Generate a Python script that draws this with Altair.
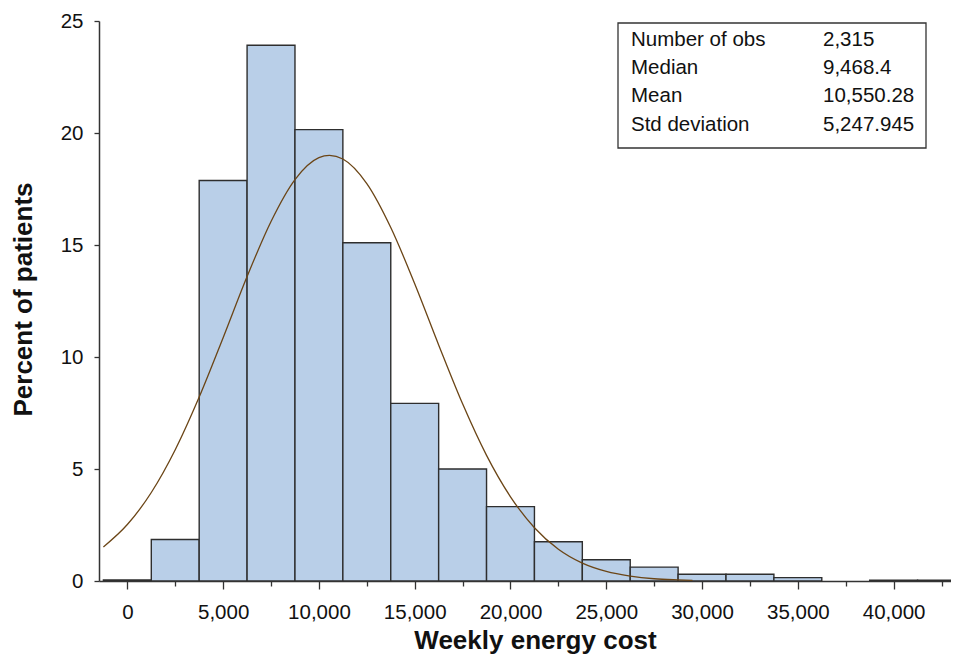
import altair as alt
import pandas as pd

# Histogram bins (bin centre, percent of patients), bin width 2,500
bin_centers = [0, 2500, 5000, 7500, 10000, 12500, 15000, 17500, 20000,
               22500, 25000, 27500, 30000, 32500, 35000, 40000, 42500]
percent = [0.05, 1.85, 17.88, 23.92, 20.15, 15.1, 7.93, 5.0, 3.32,
           1.75, 0.95, 0.62, 0.3, 0.3, 0.15, 0.04, 0.04]
bin_width = 2500

# Fitted normal curve
curve_x = [-1250, 0, 1250, 2500, 3750, 5000, 6250, 7500, 8750, 10000, 10550,
           11250, 12500, 13750, 15000, 16250, 17500, 18750, 20000, 21250,
           22500, 23750, 25000, 26250, 27500, 28750, 29500]
curve_y = [1.52, 2.52, 3.95, 5.86, 8.21, 10.86, 13.59, 16.05, 17.92, 18.9, 19.0,
           18.84, 17.74, 15.78, 13.27, 10.54, 7.91, 5.61, 3.76, 2.38,
           1.42, 0.8, 0.43, 0.22, 0.1, 0.05, 0.03]

# Statistics box
stat_labels = ["Number of obs", "Median", "Mean", "Std deviation"]
stat_values = ["2,315", "9,468.4", "10,550.28", "5,247.945"]

major_ticks = [0, 5000, 10000, 15000, 20000, 25000, 30000, 35000, 40000]
minor_ticks = [2500, 7500, 12500, 17500, 22500, 27500, 32500, 37500, 42500]
y_ticks = [0, 5, 10, 15, 20, 25]

FONT = "Liberation Sans"

bars_df = pd.DataFrame({
    "start": [c - bin_width / 2 for c in bin_centers],
    "end": [c + bin_width / 2 for c in bin_centers],
    "pct": percent,
    "zero": [0] * len(percent),
})
curve_df = pd.DataFrame({"x": curve_x, "y": curve_y})
stats_df = pd.DataFrame({
    "label": stat_labels,
    "value": stat_values,
    "row": list(range(len(stat_labels))),
})

xscale = alt.Scale(domain=[-1480, 43360], nice=False, zero=False)
yscale = alt.Scale(domain=[0, 25], nice=False)

x_axis_main = alt.Axis(
    values=major_ticks, format=",d", orient="bottom",
    tickSize=8, tickColor="#333333", tickWidth=1.3,
    domainColor="#333333", domainWidth=1.5,
    labelFont=FONT, labelFontSize=20.5, labelColor="#111111", labelPadding=13,
    labelFlush=False, labelOverlap=False,
    grid=False,
    title="Weekly energy cost", titleFont=FONT, titleFontSize=26,
    titleFontWeight="bold", titleColor="#111111",
    titleX=436, titleY=67, titleBaseline="alphabetic", titleAlign="center",
)
x_axis_minor = alt.Axis(
    values=minor_ticks, orient="bottom", labels=False, domain=False,
    tickSize=5, tickColor="#333333", tickWidth=1.3, grid=False, title=None,
)
y_axis = alt.Axis(
    values=y_ticks, orient="left",
    tickSize=5, tickColor="#333333", tickWidth=1.3,
    domainColor="#333333", domainWidth=1.5,
    labelFont=FONT, labelFontSize=20.5, labelColor="#111111", labelPadding=11,
    labelFlush=False,
    grid=False,
    title="Percent of patients", titleFont=FONT, titleFontSize=26,
    titleFontWeight="bold", titleColor="#111111",
    titleAngle=270, titleX=-68, titleY=278, titleBaseline="alphabetic",
    titleAlign="center",
)

bars = alt.Chart(bars_df).mark_rect(
    fill="#b9cfe8", stroke="#2e2e2e", strokeWidth=1.4, clip=True
).encode(
    x=alt.X("start:Q", scale=xscale, axis=x_axis_main),
    x2="end:Q",
    y=alt.Y("zero:Q", scale=yscale, axis=y_axis),
    y2="pct:Q",
)

curve = alt.Chart(curve_df).mark_line(
    color="#6b4516", strokeWidth=1.3, interpolate="monotone", clip=True
).encode(
    x=alt.X("x:Q", scale=xscale, axis=x_axis_minor),
    y=alt.Y("y:Q", scale=yscale),
)

box = alt.Chart(pd.DataFrame({"k": [0]})).mark_rect(
    fill="white", stroke="#333333", strokeWidth=1.3
).encode(
    x=alt.value(519), x2=alt.value(827),
    y=alt.value(2), y2=alt.value(127),
)

label_text = alt.Chart(stats_df).mark_text(
    align="left", baseline="alphabetic", font=FONT, fontSize=20.5, color="#111111"
).transform_calculate(
    py="25 + datum.row * 28.2"
).encode(
    x=alt.value(532),
    y=alt.Y("py:Q", scale=None),
    text="label:N",
)

value_text = alt.Chart(stats_df).mark_text(
    align="left", baseline="alphabetic", font=FONT, fontSize=20.5, color="#111111"
).transform_calculate(
    py="25 + datum.row * 28.2"
).encode(
    x=alt.value(724),
    y=alt.Y("py:Q", scale=None),
    text="value:N",
)

chart = alt.layer(bars, curve, box, label_text, value_text).resolve_axis(
    x="independent"
).properties(
    width=859, height=560,
    autosize=alt.AutoSizeParams(type="none"),
    padding={"left": 91, "top": 13, "right": -7, "bottom": 73},
    background="white",
).configure_view(stroke=None)

chart.save("out.html", embed_options={"renderer": "svg", "actions": False})
